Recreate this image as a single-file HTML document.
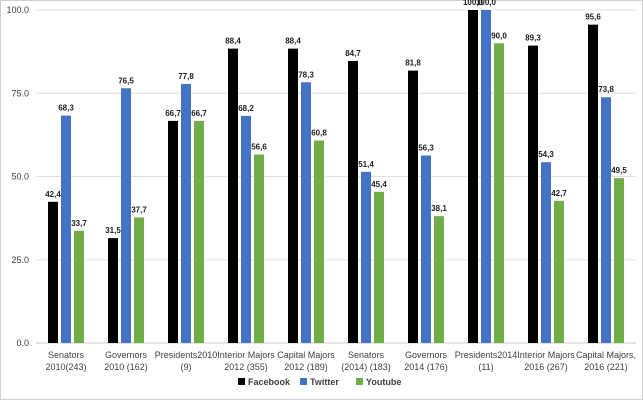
<!DOCTYPE html>
<html><head><meta charset="utf-8"><style>
html,body{margin:0;padding:0;background:#fff}
svg{display:block;font-family:"Liberation Sans",sans-serif}
</style></head><body>
<svg id="chart" width="643" height="400" viewBox="0 0 643 400">
<rect x="0.5" y="0.5" width="642" height="399" fill="#fff" stroke="#d0d0d0"/>
<g id="grid"></g><g id="bars"></g><g id="labels"></g>
<g id="legend"></g>
</svg>
<script>
const categories=[["Senators","2010(243)"],["Governors","2010 (162)"],["Presidents2010","(9)"],["Interior Majors","2012 (355)"],["Capital Majors","2012 (189)"],["Senators","(2014) (183)"],["Governors","2014 (176)"],["Presidents2014","(11)"],["Interior Majors","2016 (267)"],["Capital Majors,","2016 (221)"]];
const facebook=[42.4,31.5,66.7,88.4,88.4,84.7,81.8,100.0,89.3,95.6];
const twitter=[68.3,76.5,77.8,68.2,78.3,51.4,56.3,100.0,54.3,73.8];
const youtube=[33.7,37.7,66.7,56.6,60.8,45.4,38.1,90.0,42.7,49.5];
const ticks=[0,25,50,75,100];
const seriesNames=["Facebook","Twitter","Youtube"];
const NS="http://www.w3.org/2000/svg";
const x0=36,x1=636,yTop=10,yBot=343;
const y=v=>yBot-(v/100)*(yBot-yTop);
const step=(x1-x0)/categories.length;
const colors=["#000000","#4472c4","#70ad47"];
function mk(t,a,p){const e=document.createElementNS(NS,t);for(const k in a)e.setAttribute(k,a[k]);p.appendChild(e);return e;}
const grid=document.getElementById('grid');
ticks.forEach(t=>{
  const l=mk('line',{x1:x0,x2:x1,y1:y(t),y2:y(t),stroke:t===0?'#c8c8c8':'#e0e0e0','stroke-width':1},grid);
  
  
  const tx=mk('text',{x:29,y:y(t)+3,'text-anchor':'end','font-size':9,fill:'#404040'},grid);
  tx.textContent=t.toFixed(1);
  
  
});
const bars=document.getElementById('bars'),labels=document.getElementById('labels');
const series=[facebook,twitter,youtube];
categories.forEach((c,i)=>{
  const cx=x0+step*(i+0.5);
  series.forEach((s,k)=>{
    const bx=cx-5+(k-1)*13;
    const r=mk('rect',{x:bx,y:y(s[i]),width:10,height:yBot-y(s[i]),fill:colors[k]},bars);
    
    
    const t=mk('text',{x:bx+5,y:y(s[i])-5,'text-anchor':'middle','font-size':8,'font-weight':'bold',fill:'#202020'},labels);
    t.textContent=s[i].toFixed(1).replace('.',',');
    
    
  });
  c.forEach((line,j)=>{
    const t=mk('text',{x:cx,y:358+j*12,'text-anchor':'middle','font-size':9,fill:'#404040'},labels);
    t.textContent=line;
    
    
  });
});
const lg=document.getElementById('legend');
const lx=[238,300,356];
seriesNames.forEach((n,k)=>{
  const r=mk('rect',{x:lx[k],y:378,width:7,height:7,fill:colors[k]},lg);
  
  
  const t=mk('text',{x:lx[k]+10,y:385,'font-size':9,'font-weight':'bold',fill:'#404040'},lg);
  t.textContent=n;
  
  
});
</script>
</body></html>
